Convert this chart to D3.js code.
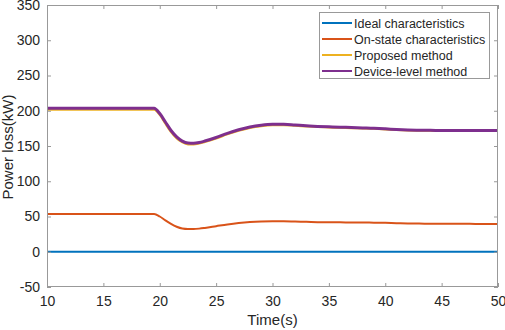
<!DOCTYPE html>
<html>
<head>
<meta charset="utf-8">
<title>Power loss</title>
<style>
body { margin: 0; background: #fff; }
text { font-family: "Liberation Sans", Arial, sans-serif; fill: #262626; }
</style>
<script src="https://d3js.org/d3.v7.min.js"></script>
</head>
<body>
<svg id="chart" width="505" height="330"></svg>
<script>
// time samples (s)
const times = [10, 19.5, 20, 20.5, 21, 21.5, 22, 22.5, 23, 23.5, 24, 25, 26, 27, 28, 29, 30,
               31, 32, 33, 34, 35, 36, 37, 38, 39, 40, 41, 42, 43, 44, 45, 46, 47, 48, 49, 50];
const ideal = times.map(() => 0);
const onState = [53.5, 53.5, 50, 44.5, 39.5, 35.5, 33, 32.3, 32.3, 32.8, 33.8, 36.3, 38.8, 40.8, 42.2, 43, 43.3,
                 43.2, 42.8, 42.4, 42, 41.8, 41.7, 41.6, 41.5, 41.3, 41, 40.5, 40.1, 39.9, 39.8, 39.7, 39.6, 39.6, 39.5, 39.5, 39.5];
const proposed = [201.5, 201.5, 194, 181.5, 169.5, 160.5, 155, 152.3, 152.3, 153.5, 155.5, 160.5, 166.5, 171.5, 175.5, 178, 179.3,
                  179.5, 178.7, 177.7, 176.8, 176.3, 175.8, 175.3, 174.8, 174.3, 173.5, 172.6, 172, 171.7, 171.5, 171.4, 171.3, 171.3, 171.2, 171.2, 171.2];
const deviceLevel = [203.5, 203.5, 196, 184, 172, 163, 157, 154.3, 154, 155, 157, 162, 168, 173, 177, 179.5, 180.7,
                     180.7, 179.7, 178.7, 177.8, 177.2, 176.7, 176.2, 175.7, 175.2, 174.4, 173.4, 172.7, 172.4, 172.2, 172.1, 172, 172, 172, 172, 172];

const seriesNames = ["Ideal characteristics", "On-state characteristics", "Proposed method", "Device-level method"];
const seriesData = [ideal, onState, proposed, deviceLevel];
const seriesColors = ["#0072BD", "#D95319", "#EDB120", "#7E2F8E"];
const seriesWidths = [2, 2, 2, 3];

const xTicks = [10, 15, 20, 25, 30, 35, 40, 45, 50];
const yTicks = [-50, 0, 50, 100, 150, 200, 250, 300, 350];

const svg = d3.select("#chart");
const LEFT = 47, RIGHT = 498, TOP = 5, BOTTOM = 287;

const xScale = d3.scaleLinear().domain([10, 50]).range([LEFT, RIGHT]);
const yScale = d3.scaleLinear().domain([-50, 350]).range([BOTTOM, TOP]);

svg.append("rect")
   .attr("x", 0).attr("y", 0).attr("width", 505).attr("height", 330)
   .attr("fill", "#fff");

const plot = svg.append("g");

// lines
const line = d3.line()
               .x((d, i) => xScale(times[i]))
               .y(d => yScale(d))
               .curve(d3.curveMonotoneX);

seriesData.forEach((s, k) => {
    plot.append("path")
        .datum(s)
        .attr("fill", "none")
        .attr("stroke", seriesColors[k])
        .attr("stroke-width", seriesWidths[k])
        .attr("d", line);
});

// axes, MATLAB style ticks inside on all four sides
const axisColor = "#999";
function styleAxis(g) {
    g.select(".domain").remove();
    g.selectAll(".tick line").attr("stroke", axisColor);
    g.selectAll(".tick text").attr("font-size", "14px").attr("fill", "#262626");
}
const plain = d => String(d);

svg.append("g")
   .attr("transform", `translate(0,${BOTTOM})`)
   .call(d3.axisBottom(xScale).tickValues(xTicks).tickSize(-4).tickPadding(9).tickFormat(plain))
   .call(styleAxis);
svg.append("g")
   .attr("transform", `translate(0,${TOP})`)
   .call(d3.axisTop(xScale).tickValues(xTicks).tickSize(-4).tickFormat(""))
   .call(styleAxis);
svg.append("g")
   .attr("transform", `translate(${LEFT},0)`)
   .call(d3.axisLeft(yScale).tickValues(yTicks).tickSize(-4).tickPadding(7).tickFormat(plain))
   .call(styleAxis);
svg.append("g")
   .attr("transform", `translate(${RIGHT},0)`)
   .call(d3.axisRight(yScale).tickValues(yTicks).tickSize(-4).tickFormat(""))
   .call(styleAxis);

svg.append("rect")
   .attr("x", LEFT + 0.5).attr("y", TOP + 0.5)
   .attr("width", RIGHT - LEFT - 1).attr("height", BOTTOM - TOP - 1)
   .attr("fill", "none").attr("stroke", axisColor).attr("stroke-width", 1);

// axis labels
svg.append("text")
   .attr("x", (LEFT + RIGHT) / 2).attr("y", 325)
   .attr("text-anchor", "middle").attr("font-size", "15px")
   .text("Time(s)");
svg.append("text")
   .attr("transform", "translate(13,147) rotate(-90)")
   .attr("text-anchor", "middle").attr("font-size", "15px")
   .text("Power loss(kW)");

// legend
const legend = svg.append("g");
legend.append("rect")
      .attr("x", 319.5).attr("y", 12.5).attr("width", 170).attr("height", 66)
      .attr("fill", "#fff").attr("stroke", "#999");
seriesNames.forEach((name, k) => {
    const y = 23 + k * 16;
    legend.append("line")
          .attr("x1", 322).attr("x2", 352).attr("y1", y).attr("y2", y)
          .attr("stroke", seriesColors[k]).attr("stroke-width", 2);
    legend.append("text")
          .attr("x", 354).attr("y", y + 4.5)
          .attr("font-size", "12.5px")
          .text(name);
});
</script>
</body>
</html>
